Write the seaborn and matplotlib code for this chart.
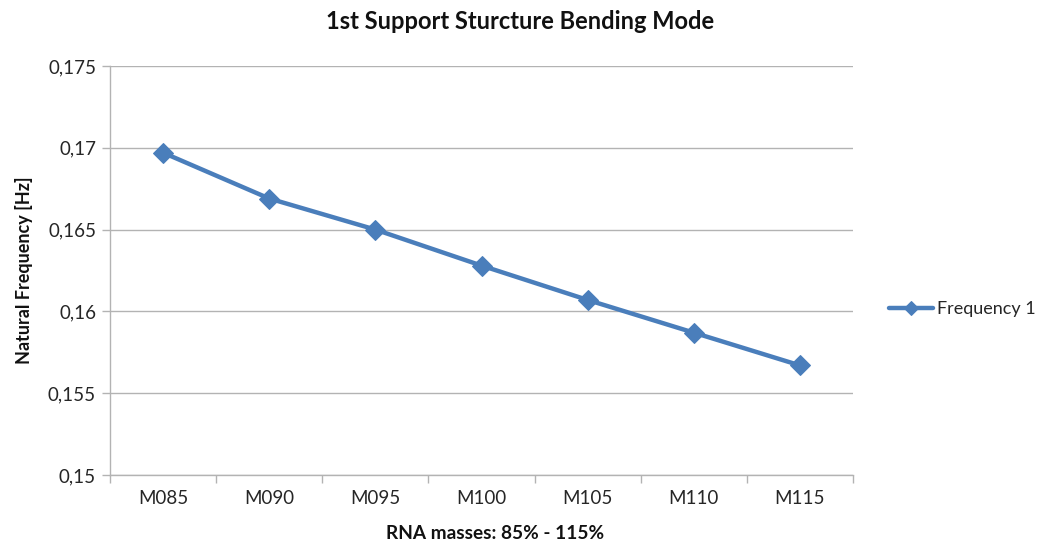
import matplotlib
matplotlib.use("Agg")
import matplotlib.pyplot as plt
import seaborn as sns
import pandas as pd
import numpy as np

categories = ["M085", "M090", "M095", "M100", "M105", "M110", "M115"]
frequency_1 = [0.1697, 0.1669, 0.1650, 0.1628, 0.1607, 0.1587, 0.1567]
y_ticks = [0.15, 0.155, 0.16, 0.165, 0.17, 0.175]
y_tick_labels = ["0,15", "0,155", "0,16", "0,165", "0,17", "0,175"]

sns.set_theme(style="white")
plt.rcParams['font.family'] = ['Lato', 'DejaVu Sans']

df = pd.DataFrame({"pos": np.arange(len(categories)), "Frequency 1": frequency_1})

fig = plt.figure(figsize=(10.41, 5.44), dpi=100)
ax = fig.add_axes([110/1041, 1 - 475/544, (853-110)/1041, (475-66)/544])

color = "#4A7EBB"
grid_c = "#B3B3B3"
sns.lineplot(data=df, x="pos", y="Frequency 1", ax=ax, color=color, linewidth=3.2,
             marker="D", markersize=10, markeredgecolor=color, label="Frequency 1")

ax.set_xlim(-0.5, len(categories) - 0.5)
ax.set_ylim(0.15, 0.175)
ax.set_yticks(y_ticks)
ax.set_yticklabels(y_tick_labels, fontsize=13.5, color="#262626")
ax.set_xticks(np.arange(len(categories)))
ax.set_xticklabels(categories, fontsize=13.5, color="#262626")
ax.set_xticks(np.arange(len(categories) + 1) - 0.5, minor=True)
ax.tick_params(axis="x", which="major", length=0, pad=11)
ax.tick_params(axis="x", which="minor", length=6, color=grid_c, width=1, bottom=True)
ax.tick_params(axis="y", length=6, color=grid_c, width=1, left=True, pad=4)
ax.grid(axis="y", color=grid_c, linewidth=1)
ax.grid(axis="x", visible=False)
ax.set_axisbelow(True)
for s in ["top", "right"]:
    ax.spines[s].set_visible(False)
for s in ["left", "bottom"]:
    ax.spines[s].set_color(grid_c)
    ax.spines[s].set_linewidth(1)

ax.set_xlabel("RNA masses: 85% - 115%", fontsize=13.7, fontweight="bold", labelpad=13, color="#111111")
ax.xaxis.label.set_x((495 - 110) / 743)
ax.set_ylabel("Natural Frequency [Hz]", fontsize=13, fontweight="bold", labelpad=11, color="#111111")
fig.suptitle("1st Support Sturcture Bending Mode", fontsize=17, fontweight="bold",
             x=0.5, y=1 - 10/544, va="top", color="#111111")

leg = ax.legend(loc="center left", bbox_to_anchor=(1.027, 0.405), frameon=False,
                fontsize=13, handlelength=2.4, handletextpad=0.25, borderpad=0.4)
for h in leg.legend_handles:
    h.set_markersize(7)

fig.savefig("out.png", dpi=100)
